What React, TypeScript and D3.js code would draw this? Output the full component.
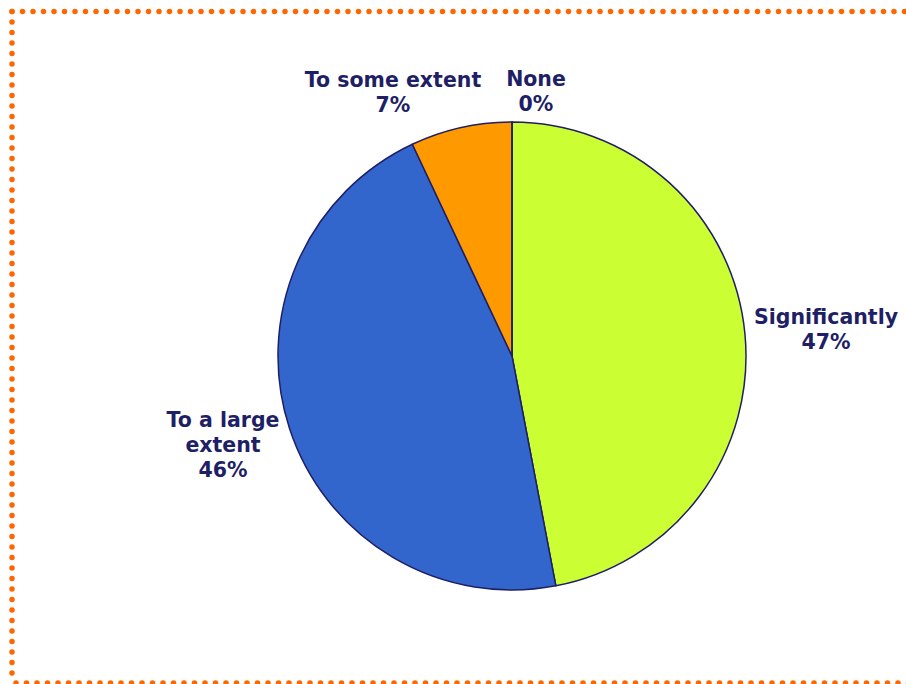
import React from "react";
import * as d3 from "d3";

const categories = ["Significantly", "To a large extent", "To some extent", "None"];
const values = [47, 46, 7, 0];
const colors = ["#CCFF33", "#3366CC", "#FF9900", "#FFFFFF"];
const labelLines = [
  ["Significantly", "47%"],
  ["To a large", "extent", "46%"],
  ["To some extent", "7%"],
  ["None", "0%"],
];
const labelPos: [number, number][] = [
  [826, 324],
  [223, 427],
  [393, 87],
  [536, 86],
];

export default function App() {
  const W = 906, H = 684;
  const cx = 512, cy = 356, r = 234;
  const pie = d3.pie<number>().sort(null).value((d) => d)(values);
  const arc = d3.arc<d3.PieArcDatum<number>>().innerRadius(0).outerRadius(r);
  const navy = "#1F1F66";
  return (
    <svg width={W} height={H} style={{ position: "absolute", left: 0, top: 0 }}>
      <rect width={W} height={H} fill="#fff" />
      <g stroke="#FF6600" strokeWidth={5.5} strokeLinecap="round" strokeDasharray="0 10.5" fill="none">
        <line x1={12} y1={11.5} x2={910} y2={11.5} />
        <line x1={12} y1={11.5} x2={12} y2={683} />
        <line x1={16} y1={683} x2={910} y2={683} />
      </g>
      <g transform={`translate(${cx},${cy})`}>
        {pie.map((p, i) => (
          <path key={categories[i]} d={arc(p) || ""} fill={colors[i]} stroke={navy} strokeWidth={1.5} strokeLinejoin="round" />
        ))}
      </g>
      <g fontFamily="'DejaVu Sans', Verdana, sans-serif" fontWeight="bold" fontSize={20.5} fill={navy} textAnchor="middle">
        {labelLines.map((lines, i) => (
          <text key={categories[i]} x={labelPos[i][0]} y={labelPos[i][1]}>
            {lines.map((l, j) => (
              <tspan key={j} x={labelPos[i][0]} dy={j === 0 ? 0 : 25}>{l}</tspan>
            ))}
          </text>
        ))}
      </g>
    </svg>
  );
}
